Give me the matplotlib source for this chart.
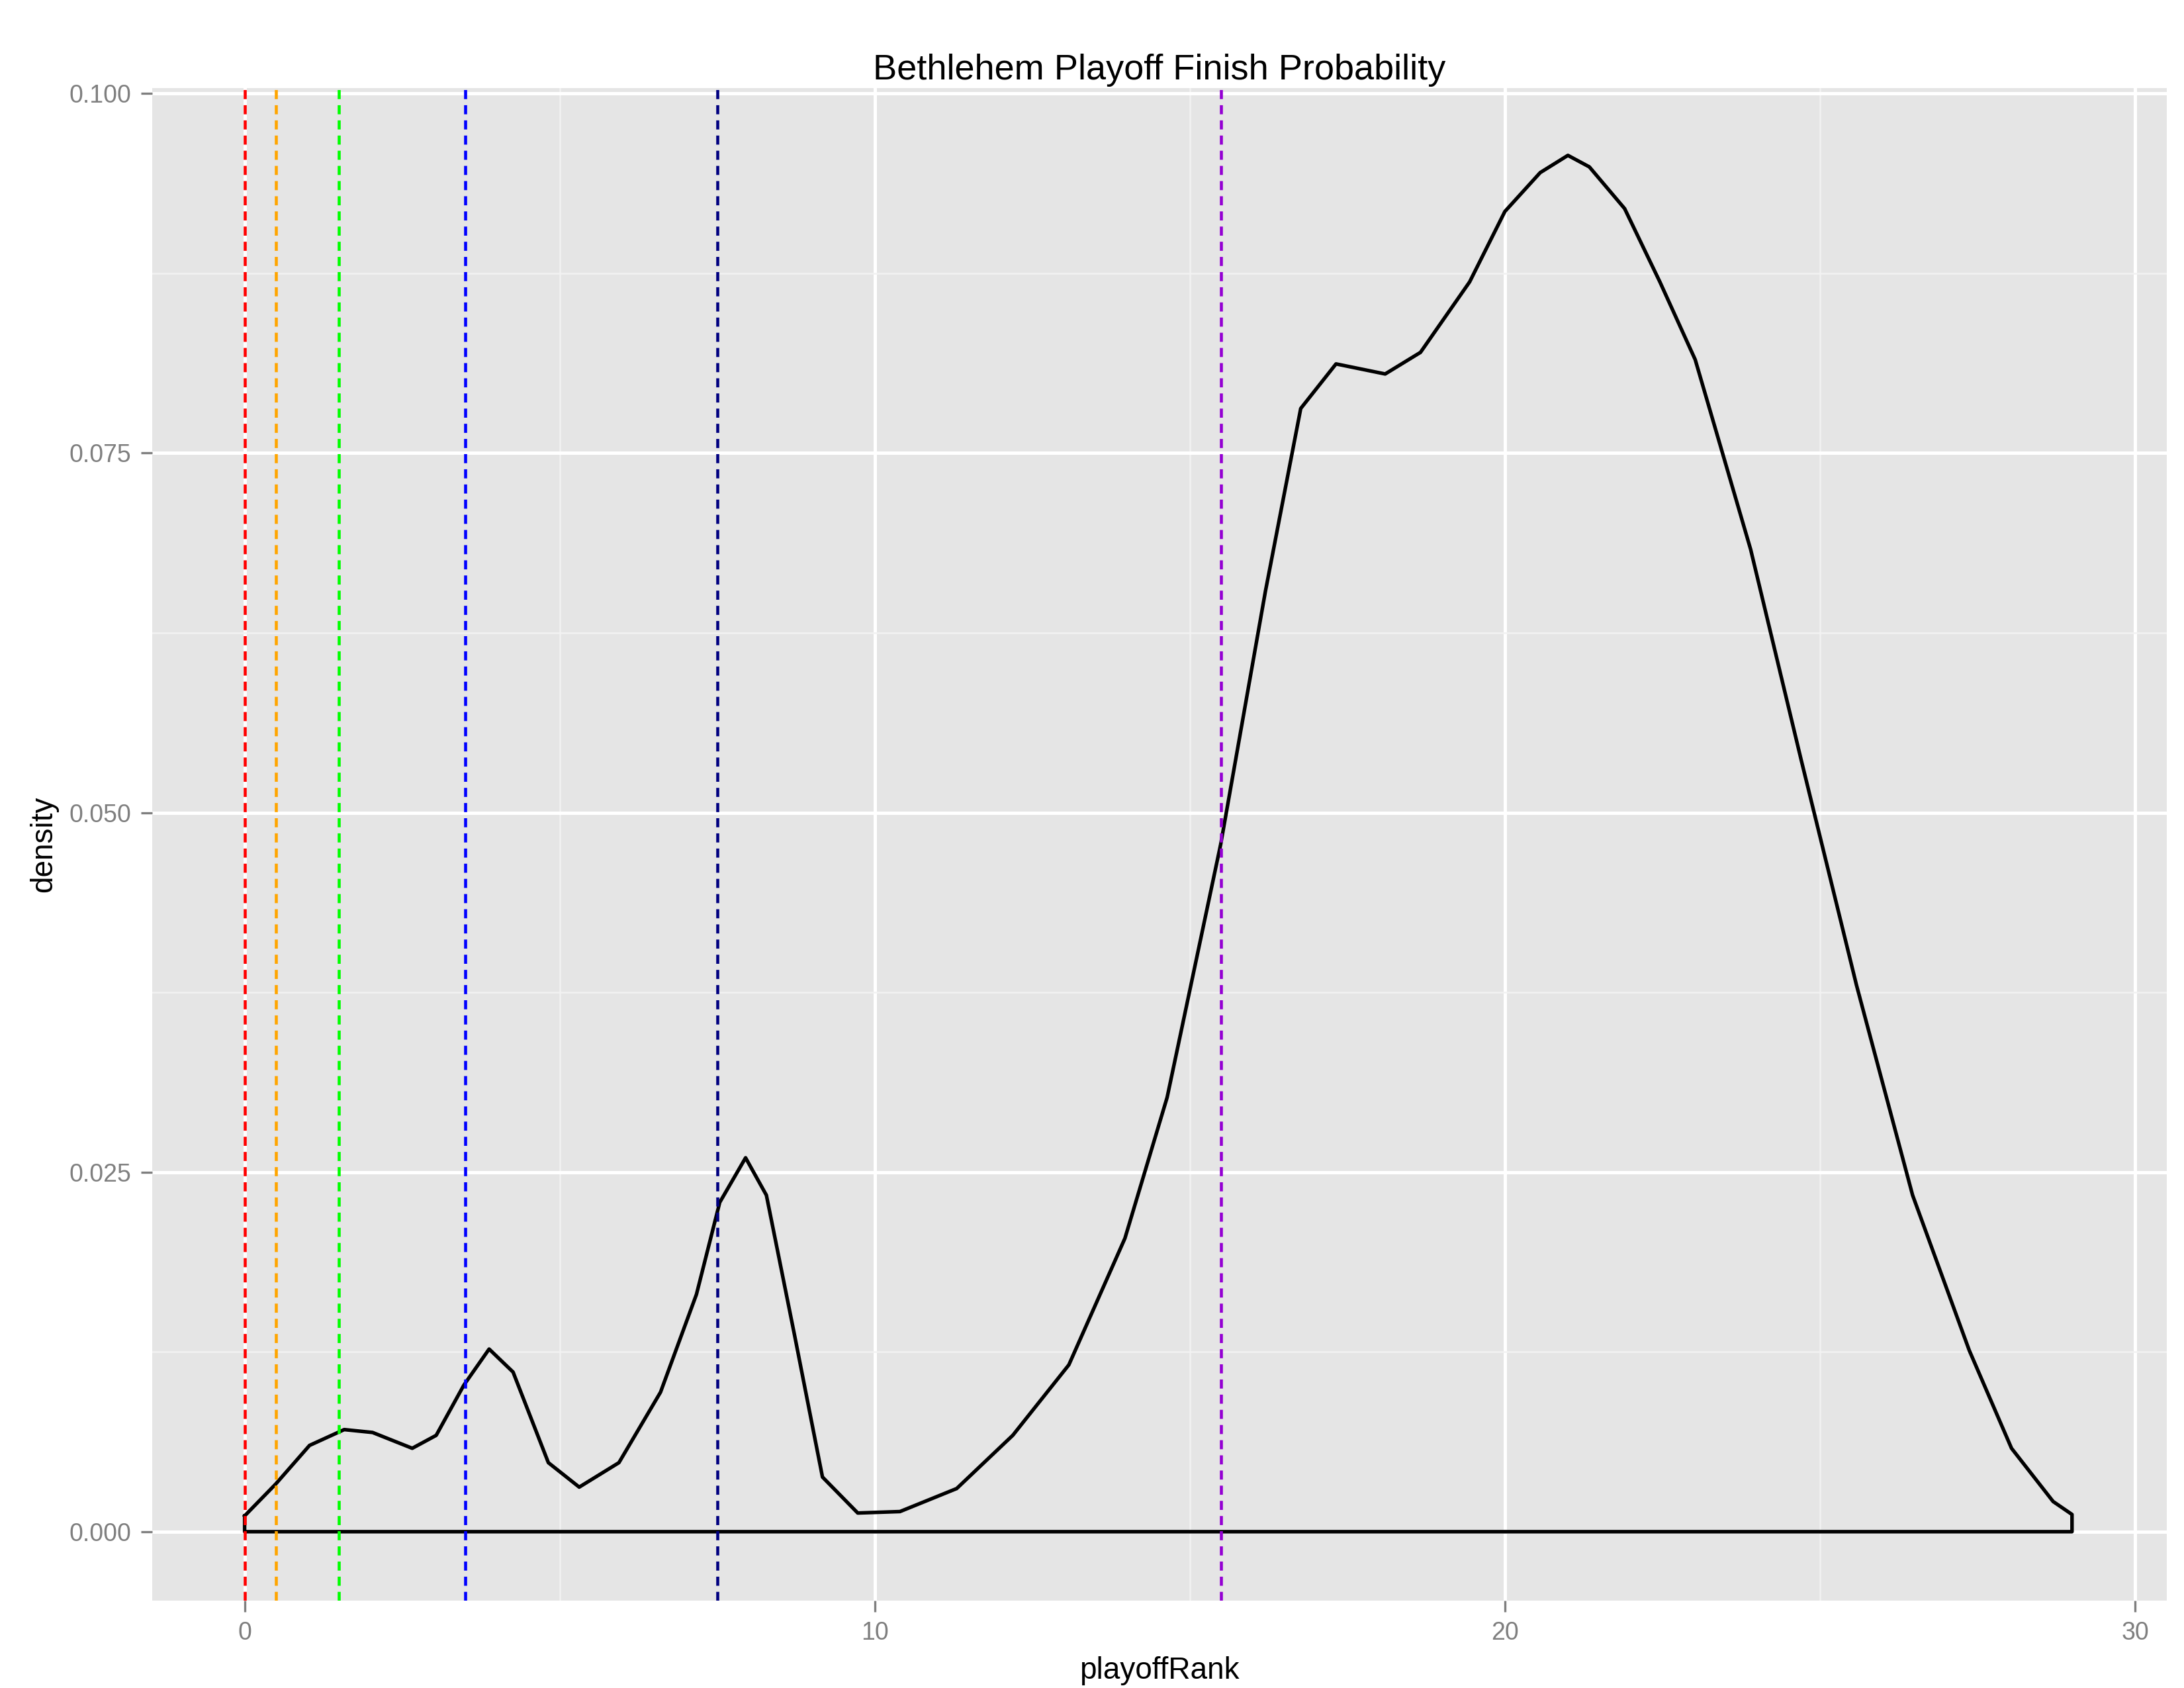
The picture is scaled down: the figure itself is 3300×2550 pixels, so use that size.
import matplotlib
matplotlib.use("Agg")
import matplotlib.pyplot as plt
from matplotlib.ticker import MultipleLocator

plt.rcParams['font.family'] = ['Liberation Sans', 'DejaVu Sans']

rank = [0,0.49,1.03,1.58,2.03,2.66,3.04,3.48,3.88,4.26,4.82,5.31,5.94,6.6,7.17,7.54,7.95,8.28,8.73,9.17,9.73,10.4,11.3,12.19,13.08,13.97,14.64,15.49,16.2,16.76,17.32,18.1,18.66,19.44,20.0,20.56,21.0,21.34,21.9,22.46,23.02,23.9,24.7,25.58,26.47,27.37,28.04,28.7,29.0]
dens = [0.0011,0.0033,0.006,0.0071,0.0069,0.0058,0.0067,0.0102,0.0127,0.0111,0.0048,0.0031,0.0048,0.0097,0.0165,0.0229,0.026,0.0234,0.0136,0.0038,0.0013,0.0014,0.003,0.0067,0.0116,0.0204,0.0302,0.0478,0.0654,0.0781,0.0812,0.0805,0.082,0.0869,0.0918,0.0945,0.0957,0.0949,0.092,0.0869,0.0815,0.0683,0.0537,0.038,0.0234,0.0126,0.0058,0.0021,0.0012]
vline_x = [0, 0.5, 1.5, 3.5, 7.5, 15.5]
vline_c = ["red", "orange", "#00FF00", "blue", "navy", "darkviolet"]

fig = plt.figure(figsize=(11, 8.5), dpi=300)
ax = fig.add_axes([0.0696, 0.0517, 0.9224, 0.8963])
ax.set_facecolor("#E5E5E5")
for s in ax.spines.values():
    s.set_visible(False)
ax.set_xlim(-1.47, 30.5)
ax.set_ylim(-0.0048, 0.1004)
ax.xaxis.set_major_locator(MultipleLocator(10))
ax.xaxis.set_minor_locator(MultipleLocator(5))
ax.yaxis.set_major_locator(MultipleLocator(0.025))
ax.yaxis.set_minor_locator(MultipleLocator(0.0125))
ax.grid(which="major", color="white", lw=1.2)
ax.grid(which="minor", color="#F2F2F2", lw=0.6)
ax.set_axisbelow(True)
ax.tick_params(which="major", length=4, color="#7F7F7F", labelcolor="#7F7F7F", labelsize=9)
ax.tick_params(which="minor", length=0)
ax.set_yticks([0, 0.025, 0.05, 0.075, 0.1])
ax.set_yticklabels(["0.000", "0.025", "0.050", "0.075", "0.100"])

xs = rank + [rank[-1], rank[0], rank[0]]
ys = dens + [0, 0, dens[0]]
ax.plot(xs, ys, color="black", lw=1.3, solid_joinstyle="round")
for x, c in zip(vline_x, vline_c):
    ax.axvline(x, color=c, ls=(0, (3, 2)), lw=1.1)

ax.set_xlabel("playoffRank", fontsize=11)
ax.set_ylabel("density", fontsize=11)
ax.set_title("Bethlehem Playoff Finish Probability", fontsize=13, pad=3)
fig.savefig("out.png", dpi=300)
